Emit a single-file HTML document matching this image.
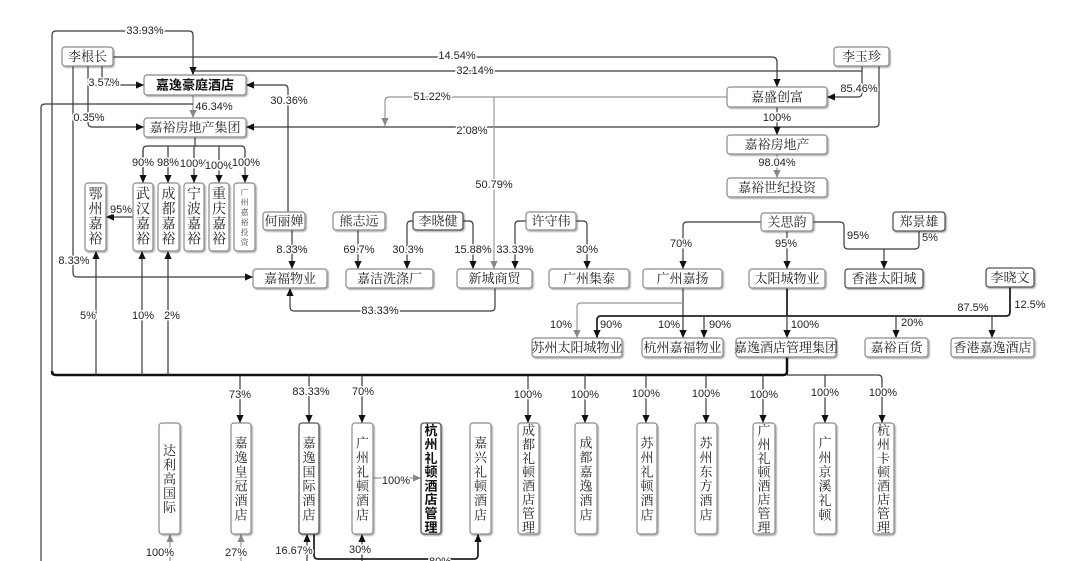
<!DOCTYPE html>
<html><head><meta charset="utf-8"><style>
html,body{margin:0;padding:0;background:#fff;}
svg{display:block;}
.bx{fill:#fff;stroke:#8a8a8a;stroke-width:1.2;filter:url(#sh);}
.k{stroke:#555;stroke-width:1.3;}
.t{font-family:"Liberation Serif","Noto Serif CJK SC",serif;font-size:13px;fill:#222;text-anchor:middle;dominant-baseline:central;}
.tb{font-family:"Liberation Sans","Noto Sans CJK SC",sans-serif;font-size:13px;font-weight:bold;fill:#111;text-anchor:middle;dominant-baseline:central;}
.v{font-family:"Liberation Serif","Noto Serif CJK SC",serif;font-size:13px;fill:#222;text-anchor:middle;dominant-baseline:central;}
.vu{font-family:"Liberation Serif","Noto Serif CJK SC",serif;font-size:14px;fill:#222;text-anchor:middle;dominant-baseline:central;}
.vs{font-family:"Liberation Serif","Noto Serif CJK SC",serif;font-size:8px;fill:#444;text-anchor:middle;dominant-baseline:central;}
.vb{font-family:"Liberation Sans","Noto Sans CJK SC",sans-serif;font-size:13px;font-weight:bold;fill:#111;text-anchor:middle;dominant-baseline:central;}
.l{font-family:"Liberation Sans",sans-serif;font-size:11px;fill:#222;text-anchor:middle;dominant-baseline:central;stroke:#fff;stroke-width:3;paint-order:stroke;}
.ln{fill:none;stroke:#3a3a3a;stroke-width:1.2;}
.g{fill:none;stroke:#999;stroke-width:1.2;}
.th{fill:none;stroke:#111;stroke-width:2.5;}
.md{fill:none;stroke:#222;stroke-width:1.8;}
</style></head><body>
<svg width="1080" height="561" viewBox="0 0 1080 561" xmlns="http://www.w3.org/2000/svg">
<defs>
<filter id="sh" x="-20%" y="-20%" width="150%" height="150%"><feDropShadow dx="1.2" dy="1.2" stdDeviation="0.7" flood-color="#000" flood-opacity="0.35"/></filter>
<marker id="a" viewBox="0 0 10 10" refX="10" refY="5" markerWidth="8" markerHeight="8" markerUnits="userSpaceOnUse" orient="auto"><path d="M0,0.5 L10,5 L0,9.5 z" fill="#111"/></marker>
<marker id="ag" viewBox="0 0 10 10" refX="10" refY="5" markerWidth="8" markerHeight="8" markerUnits="userSpaceOnUse" orient="auto"><path d="M0,0.5 L10,5 L0,9.5 z" fill="#888"/></marker>
</defs>

<path class="ln" d="M52,375 L52,35 Q52,31 56,31 L189,31 Q193,31 193,35 L193,75" marker-end="url(#a)"/>
<path class="ln" d="M862,71 L193,71"/>
<path class="ln" d="M862,66 L862,93 Q862,97 858,97 L827,97" marker-end="url(#a)"/>
<path class="ln" d="M113,57 L772,57 Q777,57 777,62 L777,87" marker-end="url(#a)"/>
<path class="ln" d="M879,66 L879,123 Q879,127 875,127 L246,127" marker-end="url(#a)"/>
<path class="ln" d="M777,107 L777,135" marker-end="url(#a)"/>
<path class="g" d="M777,154 L777,178" marker-end="url(#ag)"/>
<path class="g" d="M727,97 L389,97 Q385,97 385,101 L385,126" marker-end="url(#ag)"/>
<path class="g" d="M494,97 L494,269" marker-end="url(#ag)"/>
<path class="ln" d="M288,212 L288,89 Q288,85 284,85 L246,85" marker-end="url(#a)"/>
<path class="g" d="M193,95 L193,118" marker-end="url(#ag)"/>
<path class="ln" d="M193,104 L45,104 Q41,104 41,108 L41,561"/>
<path class="ln" d="M102,66 L102,81 Q102,85 106,85 L144,85" marker-end="url(#a)"/>
<path class="ln" d="M88,66 L88,123 Q88,127 92,127 L144,127" marker-end="url(#a)"/>
<path class="ln" d="M73,66 L73,273 Q73,277 77,277 L253,277" marker-end="url(#a)"/>
<path class="ln" d="M133,217 L106,217" marker-end="url(#a)"/>
<path class="ln" d="M195,137 L195,146"/>
<path class="ln" d="M143,183 L143,150 Q143,146 147,146 L241,146 Q245,146 245,150 L245,183" marker-end="url(#a)"/>
<path class="ln" d="M143,150 L143,183" marker-end="url(#a)"/>
<path class="ln" d="M168,146 L168,183" marker-end="url(#a)"/>
<path class="ln" d="M194,146 L194,183" marker-end="url(#a)"/>
<path class="ln" d="M219,146 L219,183" marker-end="url(#a)"/>
<path class="ln" d="M292,230 L292,269" marker-end="url(#a)"/>
<path class="ln" d="M358,230 L358,269" marker-end="url(#a)"/>
<path class="ln" d="M413,221 L411,221 Q407,221 407,225 L407,269" marker-end="url(#a)"/>
<path class="ln" d="M463,221 L469,221 Q473,221 473,225 L473,269" marker-end="url(#a)"/>
<path class="ln" d="M526,221 L519,221 Q515,221 515,225 L515,269" marker-end="url(#a)"/>
<path class="ln" d="M576,221 L583,221 Q587,221 587,225 L587,269" marker-end="url(#a)"/>
<path class="ln" d="M495,288 L495,307 Q495,311 491,311 L294,311 Q290,311 290,307 L290,288" marker-end="url(#a)"/>
<path class="ln" d="M761,222 L687,222 Q683,222 683,226 L683,269" marker-end="url(#a)"/>
<path class="ln" d="M787,231 L787,269" marker-end="url(#a)"/>
<path class="ln" d="M813,222 L840,222 Q844,222 844,226 L844,245 Q844,249 848,249 L915,249 Q919,249 919,245 L919,231"/>
<path class="ln" d="M884,249 L884,269" marker-end="url(#a)"/>
<path class="ln" d="M683,288 L683,338" marker-end="url(#a)"/>
<path class="g" d="M683,303 L581,303 Q577,303 577,307 L577,338" marker-end="url(#ag)"/>
<path class="md" d="M787,288 L787,316"/>
<path class="md" d="M597,338 L597,320 Q597,316 601,316 L1006,316 Q1010,316 1010,312 L1010,287"/>
<path class="ln" d="M597,322 L597,338" marker-end="url(#a)"/>
<path class="ln" d="M704,316 L704,338" marker-end="url(#a)"/>
<path class="ln" d="M787,316 L787,338" marker-end="url(#a)"/>
<path class="ln" d="M896,316 L896,338" marker-end="url(#a)"/>
<path class="ln" d="M992,316 L992,338" marker-end="url(#a)"/>
<path class="th" d="M787,357 L787,372 Q787,375 783,375 L56,375 Q52,375 52,371"/>
<path class="ln" d="M787,375 L878,375 Q882,375 882,379 L882,423" marker-end="url(#a)"/>
<path class="ln" d="M825,375 L825,423" marker-end="url(#a)"/>
<path class="ln" d="M96,375 L96,251" marker-end="url(#a)"/>
<path class="ln" d="M142,375 L142,251" marker-end="url(#a)"/>
<path class="ln" d="M168,375 L168,251" marker-end="url(#a)"/>
<path class="ln" d="M240,375 L240,423" marker-end="url(#a)"/>
<path class="ln" d="M309,375 L309,423" marker-end="url(#a)"/>
<path class="ln" d="M362,375 L362,423" marker-end="url(#a)"/>
<path class="ln" d="M528,375 L528,423" marker-end="url(#a)"/>
<path class="ln" d="M585,375 L585,423" marker-end="url(#a)"/>
<path class="ln" d="M646,375 L646,423" marker-end="url(#a)"/>
<path class="ln" d="M706,375 L706,423" marker-end="url(#a)"/>
<path class="ln" d="M763,375 L763,423" marker-end="url(#a)"/>
<path class="g" d="M373,478 L421,478" marker-end="url(#ag)"/>
<path class="g" d="M170,561 L170,534" marker-end="url(#ag)"/>
<path class="g" d="M241,561 L241,534" marker-end="url(#ag)"/>
<path class="ln" d="M307,561 L307,534" marker-end="url(#a)"/>
<path class="ln" d="M362,561 L362,534" marker-end="url(#a)"/>
<path class="md" d="M314,534 L314,555 Q314,559 318,559 L474,559 Q478,559 478,555 L478,534" marker-end="url(#a)"/>

<text class="l" x="145" y="31">33.93%</text>
<text class="l" x="457" y="56">14.54%</text>
<text class="l" x="475" y="71">32.14%</text>
<text class="l" x="859" y="89">85.46%</text>
<text class="l" x="104" y="83">3.57%</text>
<text class="l" x="289" y="101">30.36%</text>
<text class="l" x="214" y="107">46.34%</text>
<text class="l" x="432" y="97">51.22%</text>
<text class="l" x="777" y="118">100%</text>
<text class="l" x="89" y="118">0.35%</text>
<text class="l" x="472" y="131">2.08%</text>
<text class="l" x="777" y="163">98.04%</text>
<text class="l" x="143" y="163">90%</text>
<text class="l" x="168" y="163">98%</text>
<text class="l" x="194" y="164">100%</text>
<text class="l" x="219" y="166">100%</text>
<text class="l" x="246" y="163">100%</text>
<text class="l" x="494" y="185">50.79%</text>
<text class="l" x="121" y="210">95%</text>
<text class="l" x="292" y="250">8.33%</text>
<text class="l" x="359" y="250">69.7%</text>
<text class="l" x="408" y="250">30.3%</text>
<text class="l" x="473" y="250">15.88%</text>
<text class="l" x="515" y="250">33.33%</text>
<text class="l" x="587" y="250">30%</text>
<text class="l" x="681" y="244">70%</text>
<text class="l" x="786" y="244">95%</text>
<text class="l" x="858" y="236">95%</text>
<text class="l" x="930" y="238">5%</text>
<text class="l" x="74" y="261">8.33%</text>
<text class="l" x="380" y="311">83.33%</text>
<text class="l" x="88" y="316">5%</text>
<text class="l" x="143" y="316">10%</text>
<text class="l" x="172" y="316">2%</text>
<text class="l" x="561" y="325">10%</text>
<text class="l" x="611" y="325">90%</text>
<text class="l" x="669" y="325">10%</text>
<text class="l" x="720" y="325">90%</text>
<text class="l" x="805" y="325">100%</text>
<text class="l" x="912" y="323">20%</text>
<text class="l" x="973" y="308">87.5%</text>
<text class="l" x="1030" y="305">12.5%</text>
<text class="l" x="240" y="395">73%</text>
<text class="l" x="311" y="392">83.33%</text>
<text class="l" x="363" y="392">70%</text>
<text class="l" x="528" y="395">100%</text>
<text class="l" x="585" y="395">100%</text>
<text class="l" x="646" y="394">100%</text>
<text class="l" x="706" y="394">100%</text>
<text class="l" x="764" y="395">100%</text>
<text class="l" x="825" y="393">100%</text>
<text class="l" x="883" y="393">100%</text>
<text class="l" x="396" y="481">100%</text>
<text class="l" x="160" y="553">100%</text>
<text class="l" x="236" y="553">27%</text>
<text class="l" x="294" y="551">16.67%</text>
<text class="l" x="360" y="550">30%</text>
<text class="l" x="440" y="562">80%</text>

<rect class="bx" x="62" y="47" width="51" height="19" rx="3"/><text class="t" x="87.5" y="56.5">李根长</text>
<rect class="bx" x="144" y="75" width="102" height="20" rx="3"/><text class="tb" x="195" y="85">嘉逸豪庭酒店</text>
<rect class="bx" x="144" y="118" width="102" height="19" rx="3"/><text class="t" x="195" y="127.5">嘉裕房地产集团</text>
<rect class="bx" x="834" y="47" width="55" height="19" rx="3"/><text class="t" x="861.5" y="56.5">李玉珍</text>
<rect class="bx" x="727" y="87" width="100" height="20" rx="3"/><text class="t" x="777" y="97">嘉盛创富</text>
<rect class="bx" x="727" y="135" width="100" height="19" rx="3"/><text class="t" x="777" y="144.5">嘉裕房地产</text>
<rect class="bx" x="727" y="178" width="100" height="19" rx="3"/><text class="t" x="777" y="187.5">嘉裕世纪投资</text>
<rect class="bx" x="263" y="212" width="42" height="18" rx="3"/><text class="t" x="284" y="221">何丽婵</text>
<rect class="bx" x="333" y="212" width="52" height="18" rx="3"/><text class="t" x="359" y="221">熊志远</text>
<rect class="bx k" x="413" y="212" width="50" height="18" rx="3"/><text class="t" x="438" y="221">李晓健</text>
<rect class="bx" x="526" y="212" width="50" height="18" rx="3"/><text class="t" x="551" y="221">许守伟</text>
<rect class="bx" x="761" y="213" width="52" height="18" rx="3"/><text class="t" x="787" y="222">关思韵</text>
<rect class="bx k" x="893" y="212" width="52" height="19" rx="3"/><text class="t" x="919" y="221.5">郑景雄</text>
<rect class="bx" x="253" y="269" width="74" height="19" rx="3"/><text class="t" x="290" y="278.5">嘉福物业</text>
<rect class="bx" x="346" y="269" width="87" height="19" rx="3"/><text class="t" x="389.5" y="278.5">嘉洁洗涤厂</text>
<rect class="bx" x="457" y="269" width="75" height="19" rx="3"/><text class="t" x="494.5" y="278.5">新城商贸</text>
<rect class="bx" x="549" y="269" width="80" height="19" rx="3"/><text class="t" x="589" y="278.5">广州集泰</text>
<rect class="bx" x="643" y="269" width="79" height="19" rx="3"/><text class="t" x="682.5" y="278.5">广州嘉扬</text>
<rect class="bx" x="749" y="269" width="76" height="19" rx="3"/><text class="t" x="787" y="278.5">太阳城物业</text>
<rect class="bx k" x="845" y="269" width="78" height="19" rx="3"/><text class="t" x="884" y="278.5">香港太阳城</text>
<rect class="bx k" x="986" y="268" width="48" height="19" rx="3"/><text class="t" x="1010" y="277.5">李晓文</text>
<rect class="bx" x="532" y="338" width="90" height="19" rx="3"/><text class="t" x="577" y="347.5">苏州太阳城物业</text>
<rect class="bx" x="642" y="338" width="81" height="19" rx="3"/><text class="t" x="682.5" y="347.5">杭州嘉福物业</text>
<rect class="bx" x="736" y="338" width="100" height="19" rx="3"/><text class="t" x="786" y="347.5">嘉逸酒店管理集团</text>
<rect class="bx" x="865" y="338" width="63" height="19" rx="3"/><text class="t" x="896.5" y="347.5">嘉裕百货</text>
<rect class="bx" x="951" y="338" width="83" height="19" rx="3"/><text class="t" x="992.5" y="347.5">香港嘉逸酒店</text>

<rect class="bx" x="85" y="183" width="21" height="68" rx="3"/>
<text class="vu"><tspan x="95.5" y="194.5">鄂</tspan><tspan x="95.5" y="209.5">州</tspan><tspan x="95.5" y="224.5">嘉</tspan><tspan x="95.5" y="239.5">裕</tspan></text>
<rect class="bx" x="133" y="183" width="20" height="68" rx="3"/>
<text class="vu"><tspan x="143" y="194.5">武</tspan><tspan x="143" y="209.5">汉</tspan><tspan x="143" y="224.5">嘉</tspan><tspan x="143" y="239.5">裕</tspan></text>
<rect class="bx" x="158" y="183" width="21" height="68" rx="3"/>
<text class="vu"><tspan x="168.5" y="194.5">成</tspan><tspan x="168.5" y="209.5">都</tspan><tspan x="168.5" y="224.5">嘉</tspan><tspan x="168.5" y="239.5">裕</tspan></text>
<rect class="bx" x="184" y="183" width="20" height="68" rx="3"/>
<text class="vu"><tspan x="194" y="194.5">宁</tspan><tspan x="194" y="209.5">波</tspan><tspan x="194" y="224.5">嘉</tspan><tspan x="194" y="239.5">裕</tspan></text>
<rect class="bx" x="209" y="183" width="20" height="68" rx="3"/>
<text class="vu"><tspan x="219" y="194.5">重</tspan><tspan x="219" y="209.5">庆</tspan><tspan x="219" y="224.5">嘉</tspan><tspan x="219" y="239.5">裕</tspan></text>
<rect class="bx" x="234" y="183" width="21" height="68" rx="3"/>
<text class="vs"><tspan x="244.5" y="192">广</tspan><tspan x="244.5" y="202">州</tspan><tspan x="244.5" y="212">嘉</tspan><tspan x="244.5" y="222">裕</tspan><tspan x="244.5" y="232">投</tspan><tspan x="244.5" y="242">资</tspan></text>

<rect class="bx" x="159" y="423" width="21" height="111" rx="3"/>
<text class="v"><tspan x="169.5" y="450">达</tspan><tspan x="169.5" y="464.3">利</tspan><tspan x="169.5" y="478.5">高</tspan><tspan x="169.5" y="492.8">国</tspan><tspan x="169.5" y="507">际</tspan></text>
<rect class="bx" x="231" y="423" width="20" height="111" rx="3"/>
<text class="v"><tspan x="241" y="442.5">嘉</tspan><tspan x="241" y="456.9">逸</tspan><tspan x="241" y="471.3">皇</tspan><tspan x="241" y="485.7">冠</tspan><tspan x="241" y="500.1">酒</tspan><tspan x="241" y="514.5">店</tspan></text>
<rect class="bx k" x="299" y="423" width="20" height="111" rx="3"/>
<text class="v"><tspan x="309" y="442.5">嘉</tspan><tspan x="309" y="456.9">逸</tspan><tspan x="309" y="471.3">国</tspan><tspan x="309" y="485.7">际</tspan><tspan x="309" y="500.1">酒</tspan><tspan x="309" y="514.5">店</tspan></text>
<rect class="bx" x="352" y="423" width="21" height="111" rx="3"/>
<text class="v"><tspan x="362.5" y="442.5">广</tspan><tspan x="362.5" y="456.9">州</tspan><tspan x="362.5" y="471.3">礼</tspan><tspan x="362.5" y="485.7">顿</tspan><tspan x="362.5" y="500.1">酒</tspan><tspan x="362.5" y="514.5">店</tspan></text>
<rect class="bx k" x="421" y="423" width="20" height="111" rx="3"/>
<text class="vb"><tspan x="431" y="430.2">杭</tspan><tspan x="431" y="444">州</tspan><tspan x="431" y="457.8">礼</tspan><tspan x="431" y="471.6">顿</tspan><tspan x="431" y="485.4">酒</tspan><tspan x="431" y="499.2">店</tspan><tspan x="431" y="513">管</tspan><tspan x="431" y="526.8">理</tspan></text>
<rect class="bx" x="470" y="423" width="21" height="111" rx="3"/>
<text class="v"><tspan x="480.5" y="442.5">嘉</tspan><tspan x="480.5" y="456.9">兴</tspan><tspan x="480.5" y="471.3">礼</tspan><tspan x="480.5" y="485.7">顿</tspan><tspan x="480.5" y="500.1">酒</tspan><tspan x="480.5" y="514.5">店</tspan></text>
<rect class="bx" x="518" y="423" width="21" height="111" rx="3"/>
<text class="v"><tspan x="528.5" y="430.2">成</tspan><tspan x="528.5" y="444">都</tspan><tspan x="528.5" y="457.8">礼</tspan><tspan x="528.5" y="471.6">顿</tspan><tspan x="528.5" y="485.4">酒</tspan><tspan x="528.5" y="499.2">店</tspan><tspan x="528.5" y="513">管</tspan><tspan x="528.5" y="526.8">理</tspan></text>
<rect class="bx" x="575" y="423" width="22" height="111" rx="3"/>
<text class="v"><tspan x="586" y="442.5">成</tspan><tspan x="586" y="456.9">都</tspan><tspan x="586" y="471.3">嘉</tspan><tspan x="586" y="485.7">逸</tspan><tspan x="586" y="500.1">酒</tspan><tspan x="586" y="514.5">店</tspan></text>
<rect class="bx" x="637" y="423" width="20" height="111" rx="3"/>
<text class="v"><tspan x="647" y="442.5">苏</tspan><tspan x="647" y="456.9">州</tspan><tspan x="647" y="471.3">礼</tspan><tspan x="647" y="485.7">顿</tspan><tspan x="647" y="500.1">酒</tspan><tspan x="647" y="514.5">店</tspan></text>
<rect class="bx" x="695" y="423" width="22" height="111" rx="3"/>
<text class="v"><tspan x="706" y="442.5">苏</tspan><tspan x="706" y="456.9">州</tspan><tspan x="706" y="471.3">东</tspan><tspan x="706" y="485.7">方</tspan><tspan x="706" y="500.1">酒</tspan><tspan x="706" y="514.5">店</tspan></text>
<rect class="bx" x="753" y="423" width="22" height="111" rx="3"/>
<text class="v"><tspan x="764" y="430.2">广</tspan><tspan x="764" y="444">州</tspan><tspan x="764" y="457.8">礼</tspan><tspan x="764" y="471.6">顿</tspan><tspan x="764" y="485.4">酒</tspan><tspan x="764" y="499.2">店</tspan><tspan x="764" y="513">管</tspan><tspan x="764" y="526.8">理</tspan></text>
<rect class="bx" x="814" y="423" width="22" height="111" rx="3"/>
<text class="v"><tspan x="825" y="442.5">广</tspan><tspan x="825" y="456.9">州</tspan><tspan x="825" y="471.3">京</tspan><tspan x="825" y="485.7">溪</tspan><tspan x="825" y="500.1">礼</tspan><tspan x="825" y="514.5">顿</tspan></text>
<rect class="bx" x="873" y="423" width="21" height="111" rx="3"/>
<text class="v"><tspan x="883.5" y="430.2">杭</tspan><tspan x="883.5" y="444">州</tspan><tspan x="883.5" y="457.8">卡</tspan><tspan x="883.5" y="471.6">顿</tspan><tspan x="883.5" y="485.4">酒</tspan><tspan x="883.5" y="499.2">店</tspan><tspan x="883.5" y="513">管</tspan><tspan x="883.5" y="526.8">理</tspan></text>
</svg>
</body></html>
